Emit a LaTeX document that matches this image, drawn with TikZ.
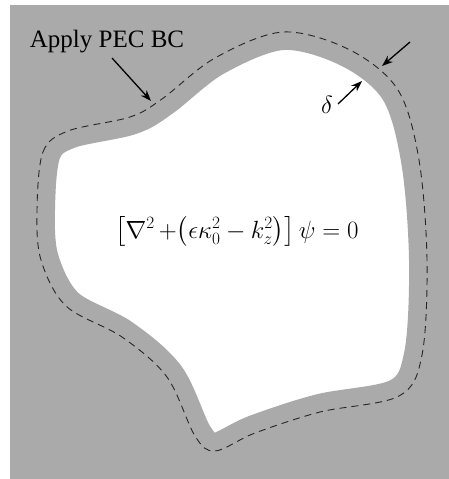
\documentclass[tikz,border=0pt]{standalone}
\usepackage{amsmath}
\usepackage{fontspec}
\setmainfont{Liberation Serif}
\usetikzlibrary{arrows.meta}
\definecolor{bggray}{RGB}{169,170,169}
\begin{document}
\begin{tikzpicture}[x=1pt,y=-1pt,
  lbl/.style={inner sep=0pt,font=\fontsize{25}{29}\selectfont},
  eqn/.style={inner sep=0pt,font=\fontsize{23}{27}\selectfont},
  ptr/.style={line width=1.3pt,-{Stealth[length=11pt,width=8pt]}},
  bnd/.style={dash pattern=on 7pt off 5pt,line width=0.9pt,black!85}]
\useasboundingbox (0,0) rectangle (449,479);
\fill[bggray] (10,5) rectangle (449,479);
\def\bndpath{plot[smooth cycle,tension=0.55] coordinates {
  (37,210) (43,152) (68,131) (130,117) (162,99) (215,58) (283,32) (350,50)
  (398,90) (419,160) (427,260) (422,355) (399,396) (320,412) (255,433)
  (215,451) (195,436) (167,377) (122,337) (66,306) (41,260)}}
\fill[white] \bndpath;
\draw[bggray,line width=36pt,line join=round] \bndpath;
\draw[bnd] \bndpath;
\node[lbl,anchor=base] (pec) at (107,47) {Apply PEC BC};
\coordinate (pecS) at (112,58);
\coordinate (pecT) at (151,101);
\draw[ptr] (pecS) -- (pecT);
\node[lbl,anchor=base] (delta) at (327,113) {$\delta$};
\coordinate (dS) at (338,104);
\coordinate (dT) at (362,81);
\draw[ptr] (dS) -- (dT);
\coordinate (oS) at (410,42);
\coordinate (oT) at (382,66);
\draw[ptr] (oS) -- (oT);
\node[eqn,anchor=base] (eq) at (237,238) {$\bigl[\nabla^2\,{+}\bigl(\epsilon\kappa_0^2-k_z^2\bigr)\bigr]\,\psi=0$};
\end{tikzpicture}
\end{document}
